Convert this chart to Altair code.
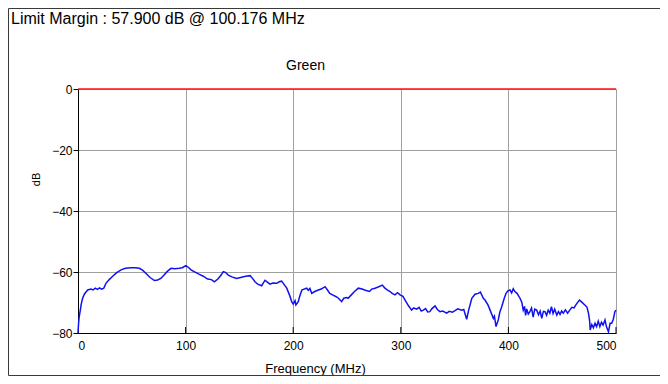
import altair as alt
import pandas as pd

# ---------------- data ----------------
freq_mhz = [0, 0.5, 1, 2, 3, 4.3, 6, 9, 12, 14, 16, 18, 20, 22, 24, 26, 29, 32, 36, 40,
            44, 49, 53, 57, 60, 63, 67, 71, 74, 77, 80, 83, 86.4, 90, 94, 97, 100.2, 103, 105, 108,
            112.8, 116, 120.5, 124, 126.7, 130, 133, 135, 137, 139.7, 143, 147.5, 152, 156, 160, 162, 164.5, 167, 170.7, 173.8,
            176, 178.4, 181, 184.7, 187, 189.3, 191, 194, 196.5, 198.6, 200, 201.7, 202.5, 204.7, 206, 208, 210, 212.5, 214, 215.5,
            217.2, 220, 223.4, 226, 229.6, 232, 234, 237, 240, 242, 245, 247, 249.7, 251, 254, 257, 260.5, 264, 267, 271,
            273, 276, 279, 282.8, 285, 287, 290, 292, 294.6, 297, 299.3, 302, 304, 307, 310, 312, 314.8, 317, 319, 321,
            323, 325, 327, 329, 331.8, 334, 336.4, 339, 342.7, 345, 348, 350.4, 353, 356.6, 358.5, 361.2, 363, 366, 369, 372,
            374, 376.7, 378.3, 381, 383, 386, 387, 388.5, 390.6, 392, 393.8, 396, 397.8, 399.5, 401.5, 403, 404.5, 406, 408, 410.8,
            412.5, 413.8, 415, 416, 417, 418.5, 420, 421.5, 423, 424.5, 426.3, 428, 429.5, 431, 432.5, 434, 435.5, 437, 438.5, 440,
            441.5, 443, 445, 446.5, 448, 449.5, 451, 453, 455, 457, 459, 461, 463, 466, 468, 471, 473, 474.4, 475.5, 476,
            477.5, 479, 480.5, 482, 483.5, 485, 486.5, 488, 489.8, 491, 493, 494.5, 496, 497.5, 499, 500]
level_db = [-80, -77, -75, -72.8, -70.5, -68.6, -67.2, -65.9, -65.6, -65.9, -65.3, -65.7, -65.2, -65.6, -65.3, -63.7, -62.5, -61.5, -60.2, -59.3,
            -58.8, -58.6, -58.6, -58.8, -59.4, -60.4, -61.8, -62.8, -62.6, -62.1, -61.0, -59.8, -58.8, -58.9, -58.8, -58.6, -57.9, -58.6, -59.3, -59.9,
            -60.8, -61.3, -62.3, -62.5, -63.2, -62.3, -61.0, -59.9, -60.1, -61.0, -61.6, -62.1, -61.7, -61.4, -61.2, -62.0, -63.2, -64.0, -64.5, -62.7,
            -63.3, -64.0, -63.6, -63.7, -63.2, -63.0, -63.8, -65.3, -67.5, -69.7, -70.5, -69.4, -70.8, -69.7, -68.0, -65.9, -65.6, -65.3, -66.0, -65.4,
            -67.0, -66.4, -65.9, -65.6, -64.8, -66.0, -67.0, -67.6, -68.1, -68.6, -69.7, -68.6, -68.4, -68.6, -67.5, -66.4, -65.3, -65.6, -66.0, -66.4,
            -65.6, -65.3, -64.9, -64.3, -65.2, -65.8, -66.4, -67.0, -67.5, -66.8, -67.5, -68.0, -69.2, -71.0, -72.5, -71.8, -72.2, -71.6, -72.8, -72.5,
            -72.0, -73.1, -73.0, -72.0, -71.1, -72.3, -73.0, -72.8, -73.5, -72.9, -73.2, -72.7, -72.1, -72.5, -72.3, -75.5, -72.6, -68.6, -67.3, -67.0,
            -66.6, -68.6, -69.2, -70.8, -72.5, -75.2, -74.5, -77.9, -75.7, -73.2, -71.4, -68.8, -67.0, -66.2, -65.9, -66.9, -65.5, -66.4, -67.0, -68.6,
            -70.0, -72.5, -71.3, -74.2, -72.1, -73.8, -73.0, -71.8, -74.8, -72.2, -72.5, -74.0, -72.8, -75.2, -72.9, -73.0, -74.2, -72.5, -73.5, -71.4,
            -73.6, -72.2, -74.1, -73.0, -73.9, -72.8, -73.5, -72.4, -73.5, -72.5, -71.6, -71.8, -70.6, -69.2, -69.8, -70.8, -71.5, -73.5, -76.0, -79.0,
            -77.2, -78.3, -76.8, -77.9, -76.1, -77.9, -76.5, -77.4, -75.7, -77.8, -79.6, -76.8, -76.8, -75.5, -73.0, -72.5]

x_tick_values = [0, 100, 200, 300, 400, 500]
x_inner_ticks = [100, 200, 300, 400, 500]
y_tick_values = [0, -20, -40, -60, -80]
limit_line_db = [0]
header_text = ["Limit Margin : 57.900 dB @ 100.176 MHz"]
panel_title = ["Green"]
x_title = "Frequency (MHz)"
y_title = "dB"

# ---------------- chart ----------------
W, H = 538, 244
FONT = "Liberation Sans"

trace_df = pd.DataFrame({"f": freq_mhz, "db": level_db})
xs = alt.Scale(domain=[0, 500], nice=False, zero=False)
ys = alt.Scale(domain=[-80, 0], nice=False, zero=False)

frame = alt.Chart(pd.DataFrame({"a": [0]})).mark_rect(
    fillOpacity=0, stroke="#3a3a3a", strokeWidth=1
).encode(x=alt.value(-69.5), x2=alt.value(640), y=alt.value(-80.5), y2=alt.value(286.5))

trace = alt.Chart(trace_df).mark_line(color="#1010f0", strokeWidth=1.5).encode(
    x=alt.X("f:Q", scale=xs, title=x_title,
            axis=alt.Axis(values=x_tick_values, ticks=False, tickSize=0,
                          labelPadding=7, titleX=237, titleY=35, titleBaseline="middle",
                          titleAlign="center", grid=True)),
    y=alt.Y("db:Q", scale=ys, title=y_title,
            axis=alt.Axis(values=y_tick_values, tickSize=5, labelPadding=1,
                          titleX=-42, titleY=90, titleBaseline="middle", titleAlign="center",
                          titleFontSize=11, grid=True)),
)

limit = alt.Chart(pd.DataFrame({"lim": limit_line_db})).mark_rule(
    color="#ff1010", strokeWidth=1.5
).encode(y=alt.Y("lim:Q", scale=ys, title=y_title))

inner_ticks = alt.Chart(pd.DataFrame({"t": x_inner_ticks})).mark_rule(
    color="#000000", strokeWidth=1
).encode(x=alt.X("t:Q", scale=xs, title=x_title), y=alt.value(H - 6), y2=alt.value(H))

header = alt.Chart(pd.DataFrame({"t": header_text})).mark_text(
    align="left", baseline="alphabetic", fontSize=16, font=FONT, color="#000000"
).encode(text="t:N", x=alt.value(-67), y=alt.value(-65))

ptitle = alt.Chart(pd.DataFrame({"t": panel_title})).mark_text(
    align="center", baseline="alphabetic", fontSize=14, font=FONT, color="#000000"
).encode(text="t:N", x=alt.value(227.5), y=alt.value(-19))

chart = alt.layer(frame, trace, limit, inner_ticks, header, ptitle).properties(
    width=W, height=H,
    padding={"left": 70, "top": 81, "right": 44, "bottom": 43},
    autosize=alt.AutoSizeParams(type="none"),
).configure_axis(
    labelFont=FONT, titleFont=FONT, labelFontSize=12, titleFontSize=13,
    labelColor="#000000", titleColor="#000000", titleFontWeight="normal",
    domainColor="#000000", tickColor="#000000", gridColor="#a0a0a0", gridOpacity=1,
    domainWidth=1,
).configure_view(stroke="#a0a0a0", strokeWidth=1)

chart.save("out.html", embed_options={"renderer": "svg", "actions": False})
